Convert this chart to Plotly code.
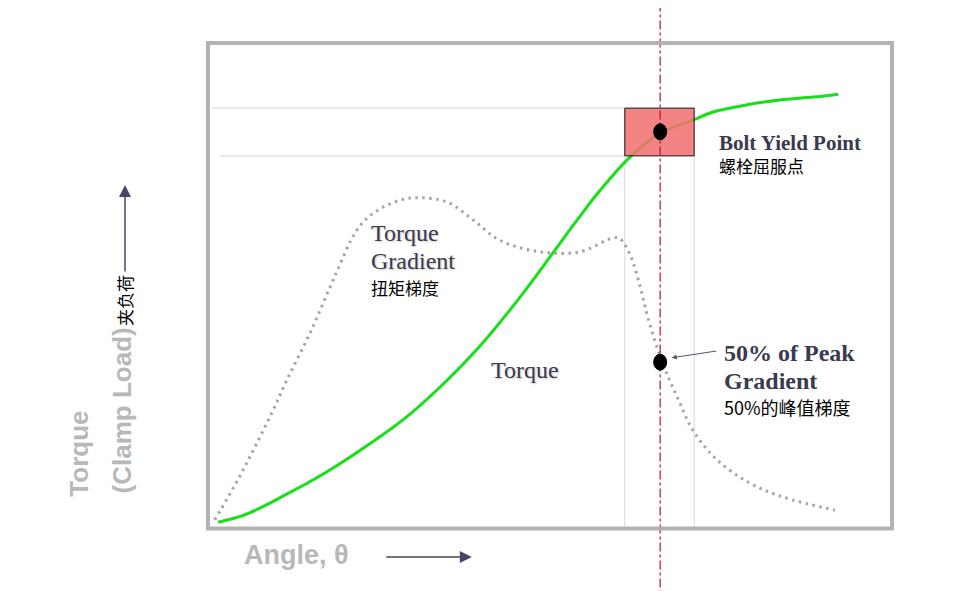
import plotly.graph_objects as go

# torque curve (angle %, torque %)
torque_angle = [1.2, 5.1, 11.0, 16.9, 22.8, 28.7, 33.8, 40.1, 45.6, 50.4, 54.0,
                57.4, 61.8, 66.2, 71.0, 74.0, 79.0, 83.8, 88.7, 92.4]
torque_value = [1.0, 2.5, 6.6, 11.2, 16.6, 22.6, 29.0, 38.2, 47.7, 56.8, 63.7,
                69.9, 76.8, 81.7, 84.4, 86.1, 87.6, 88.6, 89.2, 89.8]

# torque gradient curve
grad_angle = [0.7, 4.1, 6.6, 9.1, 11.3, 14.7, 18.1, 21.6, 24.0, 27.9, 30.9, 34.9,
              38.7, 42.6, 48.5, 54.4, 59.3, 60.3, 61.8, 63.2, 64.4, 66.5, 68.7,
              71.0, 74.6, 79.4, 84.3, 91.9]
grad_value = [1.5, 9.8, 16.6, 23.7, 30.5, 40.2, 51.2, 61.6, 65.1, 67.8, 68.3, 67.4,
              63.7, 59.5, 57.1, 57.1, 60.0, 59.8, 56.4, 50.2, 43.4, 34.2, 27.0,
              20.1, 13.9, 9.1, 6.2, 3.5]

yield_angle = 66.2
yield_torque = 82.0
half_peak_gradient = 34.2
yield_window_angle = [61.0, 71.2]
yield_window_torque = [77.0, 86.9]

SERIF = "Liberation Serif, Times New Roman, serif"
CJK = "Noto Sans CJK SC"
SANS = "Liberation Sans, Arial, sans-serif"
LABEL = "#3a3a4e"
SHADOW = "1px 1px 2px #c8c8c8"

fig = go.Figure()

fig.add_trace(go.Scatter(
    x=grad_angle, y=grad_value, mode="lines",
    line=dict(color="#a4a4a4", width=3, dash="2.5px,4.5px", shape="spline", smoothing=1.0),
    hoverinfo="skip",
))
fig.add_trace(go.Scatter(
    x=torque_angle, y=torque_value, mode="lines",
    line=dict(color="#18e018", width=3, shape="spline", smoothing=1.0),
    hoverinfo="skip",
))

shapes = []
# thin guide lines from the yield window
grid = dict(color="#d6d6d6", width=1)
shapes.append(dict(type="line", xref="x", yref="y", x0=0.3, x1=yield_window_angle[0],
                   y0=yield_window_torque[1], y1=yield_window_torque[1], line=grid, layer="below"))
shapes.append(dict(type="line", xref="x", yref="y", x0=1.5, x1=yield_window_angle[0],
                   y0=yield_window_torque[0], y1=yield_window_torque[0], line=grid, layer="below"))
for a in yield_window_angle:
    shapes.append(dict(type="line", xref="x", yref="y", x0=a, x1=a, y0=0,
                       y1=yield_window_torque[0], line=grid, layer="below"))
# yield window box
shapes.append(dict(type="rect", xref="x", yref="y",
                   x0=yield_window_angle[0], x1=yield_window_angle[1],
                   y0=yield_window_torque[0], y1=yield_window_torque[1],
                   fillcolor="rgba(242,110,110,0.85)", line=dict(color="#111111", width=1),
                   layer="above"))
# dash-dot vertical at yield angle, runs past the frame
shapes.append(dict(type="line", xref="x", yref="paper", x0=yield_angle, x1=yield_angle,
                   y0=-0.2, y1=1.15, line=dict(color="#b81030", width=1.2, dash="dashdot")))
# black oval markers
for yy in (yield_torque, half_peak_gradient):
    shapes.append(dict(type="circle", xref="x", yref="y", xsizemode="pixel", ysizemode="pixel",
                       xanchor=yield_angle, yanchor=yy, x0=-6.5, x1=6.5, y0=-8, y1=8,
                       fillcolor="#000000", line=dict(color="#000000", width=1), layer="above"))
# frame
shapes.append(dict(type="rect", xref="paper", yref="paper", x0=-0.003, x1=1.003,
                   y0=-0.003, y1=1.004, line=dict(color="#b2b2b2", width=4)))

ann = []


def label(x, y, text, size, font, color=LABEL, bold=False, shadow=None):
    t = f"<b>{text}</b>" if bold else text
    f = dict(family=font, size=size, color=color)
    if shadow:
        f["shadow"] = shadow
    ann.append(dict(x=x, y=y, xref="x", yref="y", text=t, showarrow=False,
                    xanchor="left", yanchor="middle", font=f))


label(74.6, 79.7, "Bolt Yield Point", 21, SERIF, bold=True)
label(74.6, 74.9, "螺栓屈服点", 17, CJK, color="#000000")
label(23.4, 61.0, "Torque", 24, SERIF, shadow=SHADOW)
label(23.4, 55.2, "Gradient", 24, SERIF, shadow=SHADOW)
label(23.4, 49.6, "扭矩梯度", 17, CJK, color="#000000")
label(41.0, 32.6, "Torque", 24, SERIF, shadow=SHADOW)
label(75.3, 36.1, "50% of Peak", 24, SERIF, bold=True)
label(75.3, 30.3, "Gradient", 24, SERIF, bold=True)
label(75.3, 24.9, "50%的峰值梯度", 18, CJK, color="#000000")

# arrow to 50% gradient point
ann.append(dict(x=67.9, y=35.1, xref="x", yref="y", ax=46, ay=-7, text="",
                showarrow=True, arrowhead=2, arrowsize=1, arrowwidth=1, arrowcolor="#555566"))

# axis titles
ann.append(dict(x=0.047, y=-0.058, xref="paper", yref="paper", text="<b>Angle, θ</b>",
                showarrow=False, xanchor="left", yanchor="middle",
                font=dict(family=SANS, size=27, color="#b8b8b8")))
ann.append(dict(x=0.385, y=-0.062, xref="paper", yref="paper", ax=-87, ay=0, text="",
                showarrow=True, arrowhead=2, arrowsize=1.6, arrowwidth=1.5, arrowcolor="#46466a"))
ann.append(dict(x=-0.192, y=0.153, xref="paper", yref="paper", text="<b>Torque</b>",
                showarrow=False, textangle=-90, xanchor="center", yanchor="middle",
                font=dict(family=SANS, size=26, color="#b8b8b8")))
ann.append(dict(x=-0.13, y=0.241, xref="paper", yref="paper", text="<b>(Clamp Load)</b>",
                showarrow=False, textangle=-90, xanchor="center", yanchor="middle",
                font=dict(family=SANS, size=26, color="#b8b8b8")))
ann.append(dict(x=-0.125, y=0.469, xref="paper", yref="paper", text="夹负荷",
                showarrow=False, textangle=-90, xanchor="center", yanchor="middle",
                font=dict(family=CJK, size=17, color="#000000")))
ann.append(dict(x=-0.125, y=0.7095, xref="paper", yref="paper", ax=0, ay=88, text="",
                showarrow=True, arrowhead=2, arrowsize=1.6, arrowwidth=1.5, arrowcolor="#46466a"))

fig.update_layout(
    width=960, height=591,
    margin=dict(l=202, r=78, t=37, b=72),
    paper_bgcolor="#ffffff", plot_bgcolor="#ffffff",
    showlegend=False,
    xaxis=dict(range=[0, 100], visible=False, fixedrange=True),
    yaxis=dict(range=[0, 100], visible=False, fixedrange=True),
    shapes=shapes, annotations=ann,
)

fig.write_html("out.html")
